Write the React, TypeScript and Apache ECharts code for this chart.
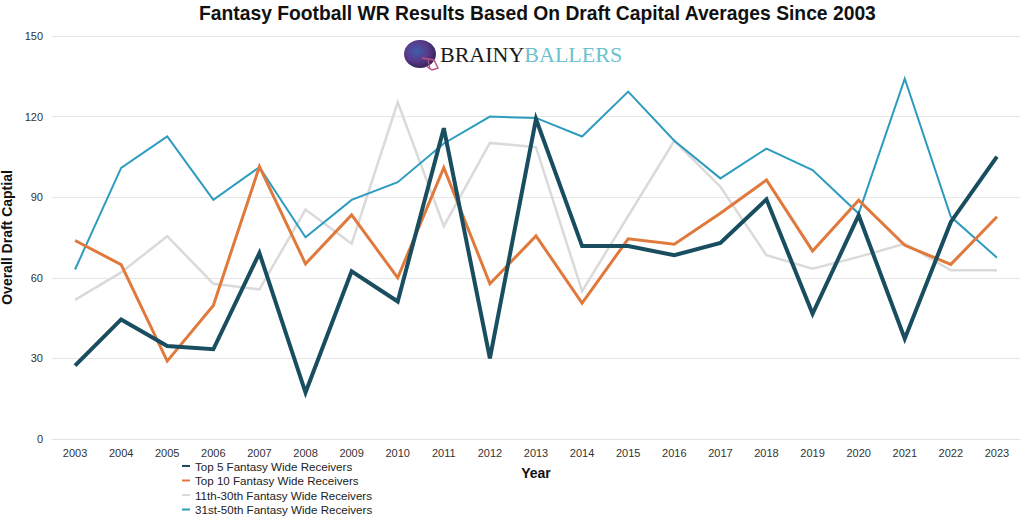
import React, { useEffect, useRef } from "react";
import * as echarts from "echarts";

const years = ["2003","2004","2005","2006","2007","2008","2009","2010","2011","2012","2013","2014","2015","2016","2017","2018","2019","2020","2021","2022","2023"];
const top5 = [27.3, 44.5, 34.6, 33.4, 69.2, 17.3, 62.4, 51.2, 115.7, 30.0, 119.1, 71.8, 71.8, 68.4, 73.0, 89.2, 46.6, 83.3, 37.3, 80.8, 105.1];
const top10 = [73.9, 64.9, 29.0, 49.7, 101.4, 65.2, 83.4, 60.0, 101.0, 57.8, 75.6, 50.6, 74.5, 72.5, 84.0, 96.4, 70.0, 88.9, 72.1, 65.0, 82.7];
const rank11to30 = [51.8, 62.0, 75.5, 57.8, 55.7, 85.4, 72.7, 125.3, 79.2, 110.2, 108.6, 55.0, 83.0, 111.0, 93.9, 68.4, 63.4, 67.8, 72.7, 62.8, 62.8];
const rank31to50 = [63.1, 100.9, 112.6, 89.0, 101.2, 75.1, 89.0, 95.6, 110.0, 120.0, 119.5, 112.6, 129.3, 111.0, 97.0, 108.1, 100.1, 83.9, 134.1, 82.7, 67.5];
const seriesNames = [
  "Top 5 Fantasy Wide Receivers",
  "Top 10 Fantasy Wide Receivers",
  "11th-30th Fantasy Wide Receivers",
  "31st-50th Fantasy Wide Receivers",
];
const yTicks = { min: 0, max: 150, interval: 30 };

const FONT = "'Liberation Sans', Arial, Helvetica, sans-serif";
const SERIF = "'Liberation Serif', 'Times New Roman', serif";

export default function App() {
  const ref = useRef<HTMLDivElement>(null);
  useEffect(() => {
    if (!ref.current) return;
    const chart = echarts.init(ref.current, null, { renderer: "svg" });
    const colors = ["#184e5f", "#e07a3c", "#dadada", "#2e9cbf"];
    const widths = [4, 3, 2.5, 2];
    const zs = [5, 4, 2, 3];
    const datasets = [top5, top10, rank11to30, rank31to50];
    chart.setOption({
      animation: false,
      backgroundColor: "#ffffff",
      title: {
        text: "Fantasy Football WR Results Based On Draft Capital Averages Since 2003",
        left: 194,
        top: -1,
        textStyle: { fontFamily: FONT, fontSize: 19.3, fontWeight: "bold", color: "#111" },
      },
      grid: { left: 52, right: 4, top: 36, bottom: 78, containLabel: false, outerBoundsMode: "none" },
      xAxis: {
        type: "category",
        data: years,
        boundaryGap: true,
        name: "Year",
        nameLocation: "middle",
        nameGap: 27,
        nameTextStyle: { fontFamily: FONT, fontSize: 14, fontWeight: "bold", color: "#111" },
        axisLine: { lineStyle: { color: "#e3e3e3" } },
        axisTick: { show: false },
        axisLabel: { fontFamily: FONT, fontSize: 11, color: "#333", margin: 8 },
      },
      yAxis: {
        type: "value",
        min: yTicks.min,
        max: yTicks.max,
        interval: yTicks.interval,
        name: "Overall Draft Captial",
        nameLocation: "middle",
        nameGap: 30,
        nameTextStyle: { fontFamily: FONT, fontSize: 14, fontWeight: "bold", color: "#111" },
        axisLine: { show: false },
        axisTick: { show: false },
        axisLabel: { fontFamily: FONT, fontSize: 11, color: "#333", margin: 9 },
        splitLine: { lineStyle: { color: "#e6e6e6", width: 1 } },
      },
      legend: {
        orient: "vertical",
        left: 182,
        top: 460,
        padding: 0,
        height: 60,
        itemWidth: 8,
        itemHeight: 2,
        itemGap: 2.5,
        icon: "rect",
        textStyle: { fontFamily: FONT, fontSize: 11.6, color: "#222" },
        data: seriesNames,
      },
      graphic: [
        {
          type: "group",
          left: 404,
          top: 40,
          children: [
            {
              type: "ellipse",
              shape: { cx: 16, cy: 14, rx: 16, ry: 14 },
              style: {
                fill: new echarts.graphic.RadialGradient(0.4, 0.4, 0.7, [
                  { offset: 0, color: "#3b5fa8" },
                  { offset: 0.5, color: "#5a3a8c" },
                  { offset: 1, color: "#2a1f4a" },
                ]),
              },
            },
            {
              type: "polyline",
              shape: { points: [[18, 18], [30, 20], [34, 28], [28, 30], [22, 26]] },
              style: { stroke: "#c0508a", lineWidth: 1.5, fill: "none" },
            },
            {
              type: "line",
              shape: { x1: 24, y1: 20, x2: 26, y2: 29 },
              style: { stroke: "#c0508a", lineWidth: 1.2 },
            },
            {
              type: "text",
              x: 36,
              y: 3,
              style: {
                text: "{a|BRAINY}{b|BALLERS}",
                rich: {
                  a: { fontFamily: SERIF, fontSize: 22, fill: "#1a1a1a" },
                  b: { fontFamily: SERIF, fontSize: 22, fill: "#6cc3cf" },
                },
              },
            },
          ],
        },
      ],
      series: datasets.map((d, i) => ({
        name: seriesNames[i],
        type: "line",
        data: d,
        showSymbol: false,
        symbol: "none",
        z: zs[i],
        itemStyle: { color: colors[i] },
        lineStyle: { color: colors[i], width: widths[i], join: "miter" },
      })),
    });
    return () => chart.dispose();
  }, []);
  return <div ref={ref} style={{ position: "fixed", left: 0, top: 0, width: 1024, height: 517 }} />;
}
